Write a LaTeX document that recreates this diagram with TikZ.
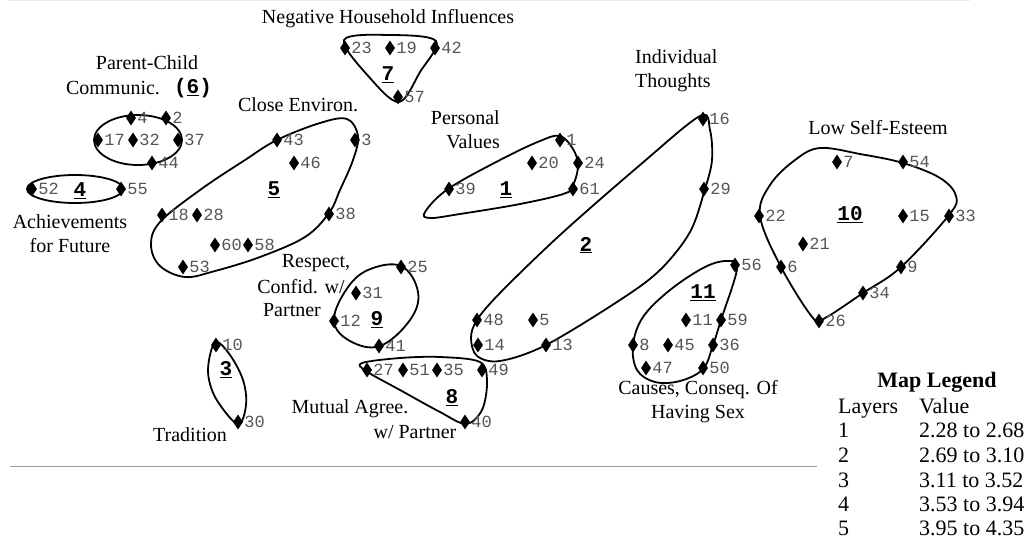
\documentclass[tikz,border=0pt]{standalone}
\usepackage{fontspec}
\setmainfont{Liberation Serif}
\newfontfamily\monof{Liberation Mono}
\usetikzlibrary{shapes.geometric}
\definecolor{numgray}{HTML}{555555}
\newcommand\dia[3]{\node[pt] (d#3) at (#1,#2) {}; \node[num] (n#3) at (d#3.east) {#3};}
\begin{document}
\begin{tikzpicture}[x=1pt,y=-1pt,
  pt/.style={diamond, fill=black, draw=none, inner sep=0pt, minimum width=10pt, minimum height=15pt},
  num/.style={font=\monof\fontsize{17}{17}\selectfont, text=numgray, inner sep=1pt, anchor=west},
  cnum/.style={font=\monof\bfseries\fontsize{21}{21}\selectfont, inner sep=0pt},
  ttl/.style={font=\fontsize{20}{24}\selectfont, align=center, inner sep=0pt},
  leg/.style={font=\fontsize{22}{24}\selectfont, anchor=west, inner sep=0pt, text height=15pt, text depth=5pt},
  outline/.style={line width=1.8pt, line join=round}]
\useasboundingbox (0,0) rectangle (1033,551);
% rules
\draw[black!8, line width=1pt] (8,1) -- (970,1);
\draw[black!40, line width=0.8pt] (10,466) -- (817,466);

% ---- cluster 7
\draw[outline] plot[smooth cycle, tension=0.55] coordinates {(344,40) (390,35) (436,41) (420,72) (399,102) (370,78)};
\dia{345}{48}{23} \dia{390}{48}{19} \dia{435}{48}{42} \dia{398}{97}{57}
\node[cnum] (c7) at (388,75) {\underline{7}};
\node[ttl] (t7) at (388,19) {Negative Household Influences};

% ---- cluster 6
\draw[outline] (138,140) ellipse [x radius=44, y radius=25];
\dia{131}{118}{4} \dia{166}{118}{2} \dia{98}{140}{17} \dia{133}{140}{32} \dia{178}{140}{37} \dia{152}{163}{44}
\node[ttl] (t6a) at (147,63) {Parent-Child};
\node[ttl] (t6b) at (113,88) {Communic.};
\node[cnum] (c6) at (193,88) {(\underline{6})};

% ---- cluster 4
\draw[outline] (75,189) ellipse [x radius=48, y radius=14];
\dia{32}{189}{52} \dia{121}{189}{55}
\node[cnum] (c4) at (80,191) {\underline{4}};
\node[ttl] (t4) at (70,234) {Achievements\\for Future};

% ---- cluster 5
\draw[outline] plot[smooth cycle, tension=0.6] coordinates {(347,119) (358,136) (353,160) (340,190) (329,213) (305,237) (260,257) (215,271) (185,277) (160,266) (151,245) (160,222) (200,190) (245,160) (277,140) (320,123)};
\dia{277}{140}{43} \dia{355}{140}{3} \dia{294}{163}{46} \dia{162}{215}{18} \dia{197}{215}{28} \dia{329}{214}{38} \dia{215}{245}{60} \dia{248}{245}{58} \dia{183}{267}{53}
\node[cnum] (c5) at (274,190) {\underline{5}};
\node[ttl] (t5) at (298,105) {Close Environ.};

% ---- cluster 1
\draw[outline] plot[smooth cycle, tension=0.6] coordinates {(425,212) (448,189) (500,160) (540,141) (560,136) (573,149) (578,165) (574,183) (566,193) (520,204) (460,214) (430,218)};
\dia{560}{140}{1} \dia{532}{163}{20} \dia{578}{163}{24} \dia{449}{189}{39} \dia{573}{189}{61}
\node[cnum] (c1) at (506,190) {\underline{1}};
\node[ttl, align=right, anchor=east] (t1) at (500,130) {Personal\\Values};

% ---- cluster 2
\draw[outline] plot[smooth cycle, tension=0.55] coordinates {(700,116) (710,130) (712,160) (705,189) (690,232) (660,270) (620,300) (546,345) (500,361) (477,356) (471,338) (477,320) (500,293) (560,235) (640,165)};
\dia{703}{119}{16} \dia{704}{189}{29} \dia{477}{320}{48} \dia{533}{320}{5} \dia{478}{345}{14} \dia{546}{345}{13}
\node[cnum] (c2) at (586,245) {\underline{2}};
\node[ttl, align=left, anchor=west] (t2) at (635,71) {Individual\\Thoughts};

% ---- cluster 11
\draw[outline] plot[smooth cycle, tension=0.6] coordinates {(728,261) (737,269) (721,320) (713,345) (703,369) (680,381) (655,382) (637,370) (633,345) (643,317) (670,290) (705,267)};
\dia{735}{265}{56} \dia{686}{320}{11} \dia{721}{320}{59} \dia{633}{345}{8} \dia{668}{345}{45} \dia{713}{345}{36} \dia{646}{368}{47} \dia{703}{368}{50}
\node[cnum] (c11) at (703,293) {\underline{11}};
\node[ttl] (t11) at (698,402) {Causes, Conseq. Of\\Having Sex};

% ---- cluster 10
\draw[outline] plot[smooth cycle, tension=0.6] coordinates {(820,148) (860,154) (903,163) (940,178) (956,196) (949,215) (901,267) (863,293) (825,318) (813,318) (781,267) (760,216) (770,185) (795,160)};
\dia{837}{162}{7} \dia{903}{162}{54} \dia{759}{216}{22} \dia{903}{216}{15} \dia{949}{216}{33} \dia{803}{244}{21} \dia{781}{267}{6} \dia{901}{267}{9} \dia{863}{293}{34} \dia{819}{321}{26}
\node[cnum] (c10) at (850,215) {\underline{10}};
\node[ttl] (t10) at (878,128) {Low Self-Esteem};

% ---- cluster 9
\draw[outline] plot[smooth cycle, tension=0.65] coordinates {(401,266) (418,292) (410,320) (380,346) (350,341) (334,321) (346,290) (368,270)};
\dia{401}{267}{25} \dia{356}{293}{31} \dia{334}{321}{12} \dia{379}{346}{41}
\node[cnum] (c9) at (377,320) {\underline{9}};
\node[ttl] (t9a) at (316,263) {Respect,};
\node[ttl] (t9b) at (301,287) {Confid. w/};
\node[ttl] (t9c) at (292,310) {Partner};

% ---- cluster 8
\draw[outline] plot[smooth cycle, tension=0.55] coordinates {(362,363) (400,358) (440,357) (480,362) (487,382) (482,410) (466,424) (440,412) (400,390) (366,371)};
\dia{367}{370}{27} \dia{403}{370}{51} \dia{437}{370}{35} \dia{482}{370}{49} \dia{465}{422}{40}
\node[cnum] (c8) at (452,398) {\underline{8}};
\node[ttl] (t8a) at (350,409) {Mutual Agree.};
\node[ttl] (t8b) at (415,432) {w/ Partner};

% ---- cluster 3
\draw[outline] plot[smooth cycle, tension=0.6] coordinates {(216,342) (209,360) (209,380) (218,402) (238,424) (246,405) (243,380) (230,355)};
\dia{216}{345}{10} \dia{238}{422}{30}
\node[cnum] (c3) at (226,370) {\underline{3}};
\node[ttl] (t3) at (190,435) {Tradition};

% ---- legend
\node[font=\bfseries\fontsize{22}{24}\selectfont, inner sep=0pt] (lg) at (937,382) {Map Legend};
\node[leg] (lh1) at (838,408) {Layers};
\node[leg] (lh2) at (919,408) {Value};
\node[leg] (l1) at (838,432) {1}; \node[leg] (v1) at (919,432) {2.28 to 2.68};
\node[leg] (l2) at (838,457) {2}; \node[leg] (v2) at (919,457) {2.69 to 3.10};
\node[leg] (l3) at (838,482) {3}; \node[leg] (v3) at (919,482) {3.11 to 3.52};
\node[leg] (l4) at (838,506) {4}; \node[leg] (v4) at (919,506) {3.53 to 3.94};
\node[leg] (l5) at (838,530) {5}; \node[leg] (v5) at (919,530) {3.95 to 4.35};
\end{tikzpicture}
\end{document}
